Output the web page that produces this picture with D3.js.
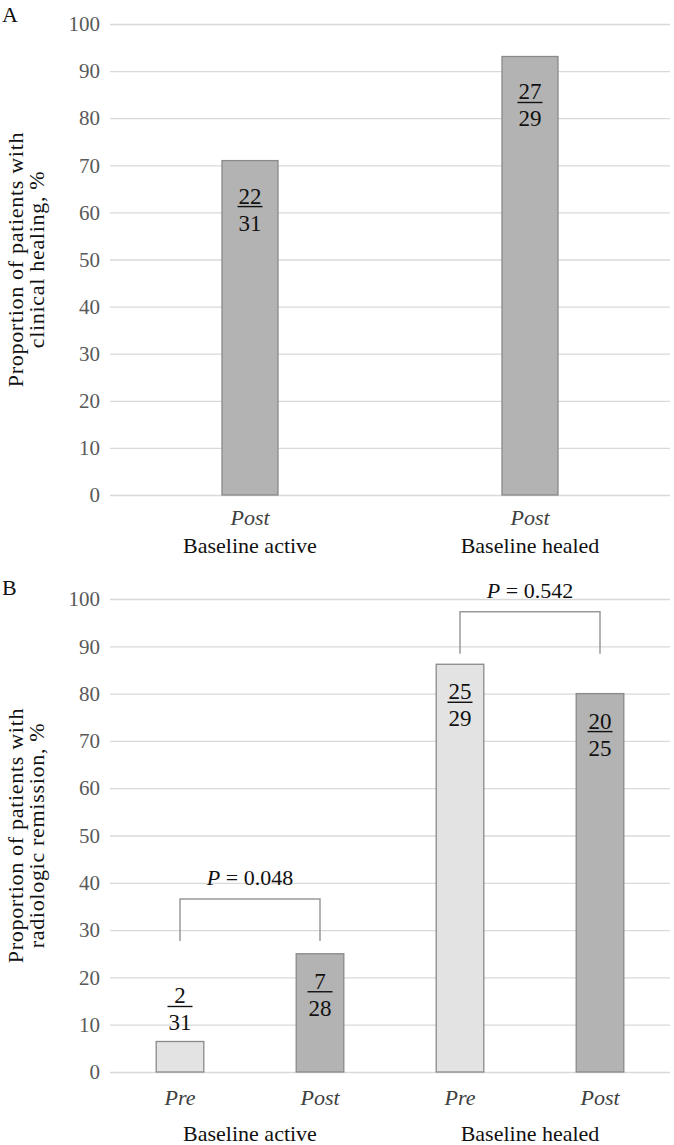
<!DOCTYPE html>
<html>
<head>
<meta charset="utf-8">
<script src="https://cdn.jsdelivr.net/npm/d3@7"></script>
<style>
    body { margin: 0; background: #fff; }
    svg text { font-family: "Liberation Serif", "DejaVu Serif", "Times New Roman", serif; }
</style>
</head>
<body>
<div id="main"></div>
<script>
// Panel A: clinical healing (post only)
let healingGroups = ["Baseline active", "Baseline healed"];
let healingPhase = ["Post", "Post"];
let healingValues = [71.0, 93.1];
let healingNum = ["22", "27"];
let healingDen = ["31", "29"];

// Panel B: radiologic remission (pre / post)
let remissionBars = ["active-pre", "active-post", "healed-pre", "healed-post"];
let remissionGroups = ["Baseline active", "Baseline healed"];
let remissionPhase = ["Pre", "Post", "Pre", "Post"];
let remissionValues = [6.45, 25.0, 86.2, 80.0];
let remissionNum = ["2", "7", "25", "20"];
let remissionDen = ["31", "28", "29", "25"];

// P values and bracket tops (in % units)
let pLabels = ["0.048", "0.542"];
let bracketTops = [36.6, 97.3];

let yTicks = [0, 10, 20, 30, 40, 50, 60, 70, 80, 90, 100];

let width = 674, height = 1145;
let left = 110, right = 670;
let serif = "'Liberation Serif', 'DejaVu Serif', 'Times New Roman', serif";
let postFill = "#b3b3b3", preFill = "#e3e3e3", barStroke = "#8a8a8a";

let svg = d3.select("#main")
    .append("svg")
    .attr("width", width)
    .attr("height", height)
    .attr("font-family", serif);

function drawGrid(yScale) {
    let g = svg.append("g")
        .attr("transform", "translate(" + left + ",0)")
        .call(d3.axisLeft(yScale)
            .tickValues(yTicks)
            .tickSize(-(right - left))
            .tickPadding(10));
    g.attr("font-family", serif);
    g.select(".domain").remove();
    g.selectAll(".tick line")
        .attr("stroke", "#d9d9d9")
        .attr("stroke-width", 1.3);
    g.selectAll(".tick text")
        .attr("fill", "#595959")
        .attr("font-size", "21px")
        .style("font-family", serif);
}

function drawYTitle(lines, cy) {
    let t = svg.append("text")
        .attr("transform", "translate(0," + cy + ") rotate(-90)")
        .attr("text-anchor", "middle")
        .attr("font-size", "22px")
        .attr("letter-spacing", "0.7px")
        .attr("fill", "#111");
    t.selectAll("tspan")
        .data(lines)
        .enter().append("tspan")
        .attr("x", 0)
        .attr("y", function(d, i) { return 23 + i * 21; })
        .text(function(d) { return d; });
}

function drawFraction(x, lineY, num, den) {
    let w = Math.max(num.length, den.length) * 11.5 + 2;
    svg.append("text")
        .attr("x", x).attr("y", lineY - 3)
        .attr("text-anchor", "middle")
        .attr("font-size", "23px")
        .attr("fill", "#111")
        .text(num);
    svg.append("line")
        .attr("x1", x - w / 2).attr("x2", x + w / 2)
        .attr("y1", lineY).attr("y2", lineY)
        .attr("stroke", "#111")
        .attr("stroke-width", 1.4);
    svg.append("text")
        .attr("x", x).attr("y", lineY + 24)
        .attr("text-anchor", "middle")
        .attr("font-size", "23px")
        .attr("fill", "#111")
        .text(den);
}

function drawPanelLabel(txt, y) {
    svg.append("text")
        .attr("x", 2).attr("y", y)
        .attr("font-size", "22px")
        .attr("fill", "#111")
        .text(txt);
}

// ---------- Panel A ----------
let yA = d3.scaleLinear().domain([0, 100]).range([495, 24]);
let xA = d3.scaleBand().domain(healingGroups).range([left, right])
    .paddingInner(0.8).paddingOuter(0.4);

drawPanelLabel("A", 22);
drawGrid(yA);
drawYTitle(["Proportion of patients with", "clinical healing, %"], (yA(0) + yA(100)) / 2);

svg.selectAll(".barA")
    .data(healingValues)
    .enter().append("rect")
    .attr("class", "barA")
    .attr("x", function(d, i) { return xA(healingGroups[i]); })
    .attr("y", function(d) { return yA(d); })
    .attr("width", xA.bandwidth())
    .attr("height", function(d) { return yA(0) - yA(d); })
    .attr("fill", postFill)
    .attr("stroke", barStroke)
    .attr("stroke-width", 1.3);

healingValues.forEach(function(v, i) {
    let cx = xA(healingGroups[i]) + xA.bandwidth() / 2;
    drawFraction(cx, yA(v) + 46, healingNum[i], healingDen[i]);
    svg.append("text")
        .attr("x", cx).attr("y", 525)
        .attr("text-anchor", "middle")
        .attr("font-size", "22px")
        .attr("font-style", "italic")
        .attr("fill", "#404040")
        .text(healingPhase[i]);
    svg.append("text")
        .attr("x", cx).attr("y", 553)
        .attr("text-anchor", "middle")
        .attr("font-size", "22px")
        .attr("fill", "#111")
        .text(healingGroups[i]);
});

// ---------- Panel B ----------
let yB = d3.scaleLinear().domain([0, 100]).range([1072, 599]);
let xB = d3.scaleBand().domain(remissionBars).range([left, right])
    .paddingInner(0.66).paddingOuter(0.33);
let centerB = function(i) { return xB(remissionBars[i]) + xB.bandwidth() / 2; };

drawPanelLabel("B", 595);
drawGrid(yB);
drawYTitle(["Proportion of patients with", "radiologic remission, %"], (yB(0) + yB(100)) / 2);

svg.selectAll(".barB")
    .data(remissionValues)
    .enter().append("rect")
    .attr("class", "barB")
    .attr("x", function(d, i) { return xB(remissionBars[i]); })
    .attr("y", function(d) { return yB(d); })
    .attr("width", xB.bandwidth())
    .attr("height", function(d) { return yB(0) - yB(d); })
    .attr("fill", function(d, i) { return remissionPhase[i] === "Pre" ? preFill : postFill; })
    .attr("stroke", barStroke)
    .attr("stroke-width", 1.3);

remissionValues.forEach(function(v, i) {
    let cx = centerB(i);
    // small bar: label sits above it
    let lineY = (yB(0) - yB(v) < 60) ? yB(v) - 35 : yB(v) + 38;
    drawFraction(cx, lineY, remissionNum[i], remissionDen[i]);
    svg.append("text")
        .attr("x", cx).attr("y", 1105)
        .attr("text-anchor", "middle")
        .attr("font-size", "22px")
        .attr("font-style", "italic")
        .attr("fill", "#404040")
        .text(remissionPhase[i]);
});

remissionGroups.forEach(function(g, k) {
    let x1 = centerB(k * 2), x2 = centerB(k * 2 + 1);
    let top = yB(bracketTops[k]);
    svg.append("text")
        .attr("x", (x1 + x2) / 2).attr("y", 1141)
        .attr("text-anchor", "middle")
        .attr("font-size", "22px")
        .attr("fill", "#111")
        .text(g);

    svg.append("path")
        .attr("d", "M" + x1 + "," + (top + 42) + "V" + top + "H" + x2 + "V" + (top + 42))
        .attr("fill", "none")
        .attr("stroke", "#999")
        .attr("stroke-width", 1.5);

    let p = svg.append("text")
        .attr("x", (x1 + x2) / 2).attr("y", top - 14)
        .attr("text-anchor", "middle")
        .attr("font-size", "22px")
        .attr("fill", "#111");
    p.append("tspan").attr("font-style", "italic").text("P");
    p.append("tspan").text(" = " + pLabels[k]);
});
</script>
</body>
</html>
